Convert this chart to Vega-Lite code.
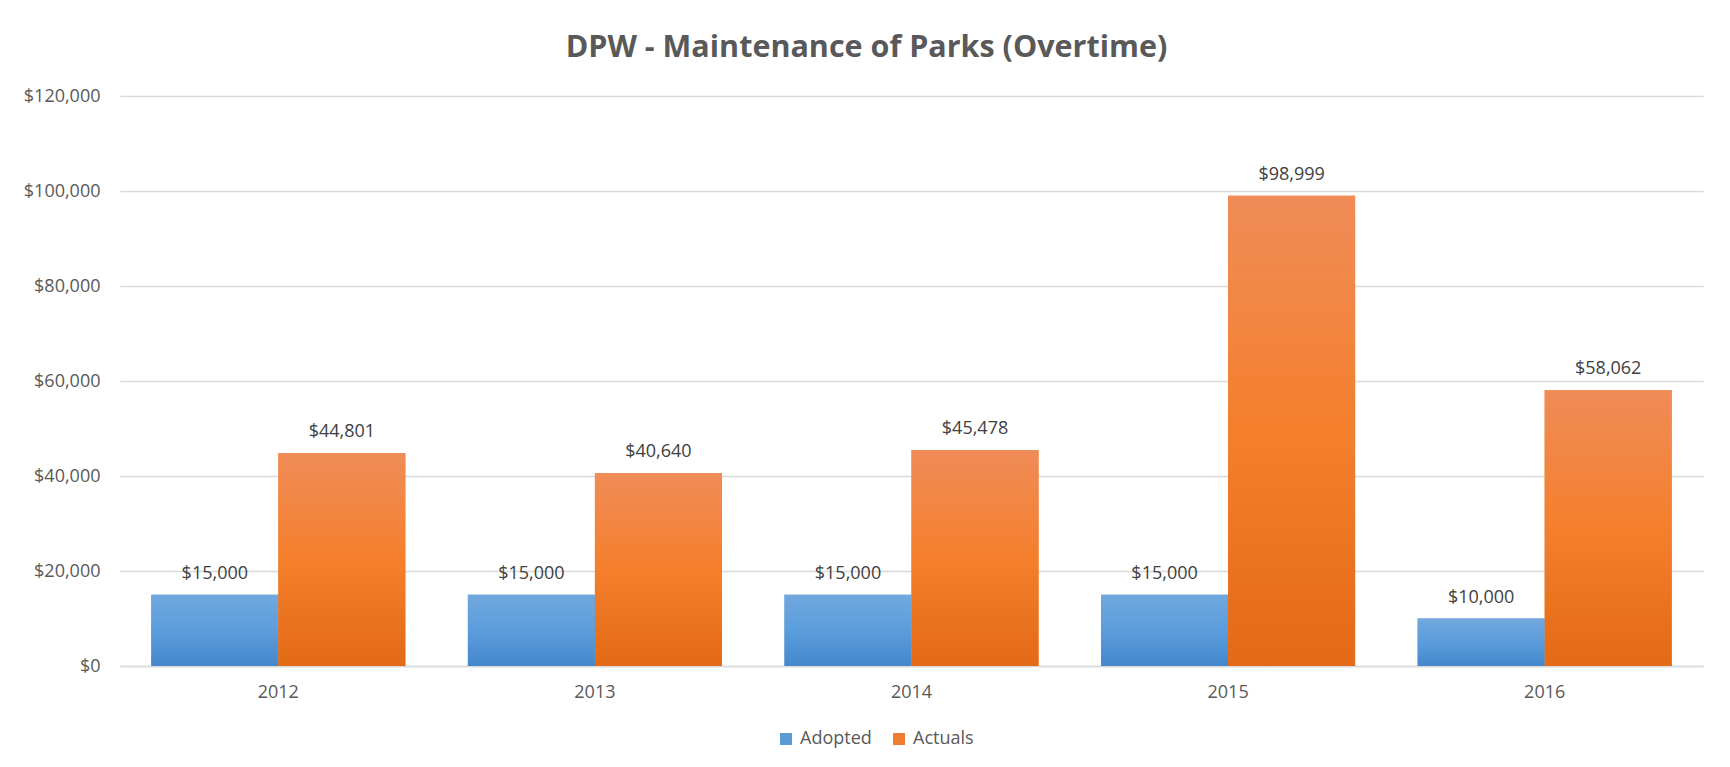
{
  "$schema": "https://vega.github.io/schema/vega-lite/v6.json",
  "width": 1583,
  "height": 570,
  "autosize": {"type": "none"},
  "padding": {"left": 120, "top": 96, "right": 27, "bottom": 101},
  "background": "white",
  "config": {"view": {"stroke": null}},
  "title": {
    "text": "DPW - Maintenance of Parks (Overtime)",
    "font": "Open Sans",
    "fontSize": 30.5,
    "fontWeight": "bold",
    "color": "#595959",
    "anchor": "middle",
    "dx": -45,
    "offset": 24
  },
  "data": {
    "values": [
      {"year": "2012", "series": "Adopted", "amount": 15000},
      {"year": "2012", "series": "Actuals", "amount": 44801},
      {"year": "2013", "series": "Adopted", "amount": 15000},
      {"year": "2013", "series": "Actuals", "amount": 40640},
      {"year": "2014", "series": "Adopted", "amount": 15000},
      {"year": "2014", "series": "Actuals", "amount": 45478},
      {"year": "2015", "series": "Adopted", "amount": 15000},
      {"year": "2015", "series": "Actuals", "amount": 98999},
      {"year": "2016", "series": "Adopted", "amount": 10000},
      {"year": "2016", "series": "Actuals", "amount": 58062}
    ]
  },
  "encoding": {
    "x": {
      "field": "year",
      "type": "nominal",
      "scale": {"paddingInner": 0.1975, "paddingOuter": 0.0988},
      "axis": {
        "title": null,
        "labelAngle": 0,
        "labelFont": "Open Sans",
        "labelFontSize": 18,
        "labelColor": "#595959",
        "labelPadding": 17,
        "ticks": false,
        "domain": true,
        "domainColor": "#D9D9D9",
        "domainWidth": 1.5
      }
    },
    "xOffset": {
      "field": "series",
      "type": "nominal",
      "sort": ["Adopted", "Actuals"],
      "scale": {"paddingInner": 0, "paddingOuter": 0}
    },
    "y": {
      "field": "amount",
      "type": "quantitative",
      "scale": {"domain": [0, 120000], "nice": false},
      "axis": {
        "title": null,
        "values": [0, 20000, 40000, 60000, 80000, 100000, 120000],
        "format": "$,.0f",
        "labelFont": "Open Sans",
        "labelFontSize": 18,
        "labelColor": "#595959",
        "labelPadding": 20,
        "ticks": false,
        "domain": false,
        "grid": true,
        "gridColor": "#D9D9D9",
        "gridWidth": 1.5
      }
    }
  },
  "layer": [
    {
      "mark": {"type": "bar"},
      "encoding": {
        "color": {
          "field": "series",
          "type": "nominal",
          "sort": ["Adopted", "Actuals"],
          "scale": {"domain": ["Adopted", "Actuals"], "range": ["#5B9BD5", "#ED7D31"]},
          "legend": {
            "orient": "none",
            "legendX": 657,
            "legendY": 634,
            "direction": "horizontal",
            "title": null,
            "symbolType": "square",
            "symbolSize": 144,
            "symbolStrokeWidth": 0,
            "labelFont": "Open Sans",
            "labelFontSize": 18,
            "labelColor": "#595959",
            "labelOffset": 5,
            "columnPadding": 18,
            "padding": 0
          }
        }
      }
    },
    {
      "transform": [{"filter": "datum.series === 'Adopted'"}],
      "mark": {
        "type": "bar",
        "fill": {
          "gradient": "linear",
          "x1": 0, "y1": 0, "x2": 0, "y2": 1,
          "stops": [
            {"offset": 0, "color": "#72A8DE"},
            {"offset": 0.5, "color": "#5B9DDC"},
            {"offset": 1, "color": "#4487CC"}
          ]
        }
      },
      "encoding": {}
    },
    {
      "transform": [{"filter": "datum.series === 'Actuals'"}],
      "mark": {
        "type": "bar",
        "fill": {
          "gradient": "linear",
          "x1": 0, "y1": 0, "x2": 0, "y2": 1,
          "stops": [
            {"offset": 0, "color": "#F08C58"},
            {"offset": 0.5, "color": "#F47F2C"},
            {"offset": 1, "color": "#E36A17"}
          ]
        }
      },
      "encoding": {}
    },
    {
      "mark": {
        "type": "text",
        "dy": -21,
        "baseline": "middle",
        "align": "center",
        "font": "Open Sans",
        "fontSize": 18,
        "color": "#404040"
      },
      "encoding": {
        "text": {"field": "amount", "type": "quantitative", "format": "$,.0f"}
      }
    }
  ]
}
